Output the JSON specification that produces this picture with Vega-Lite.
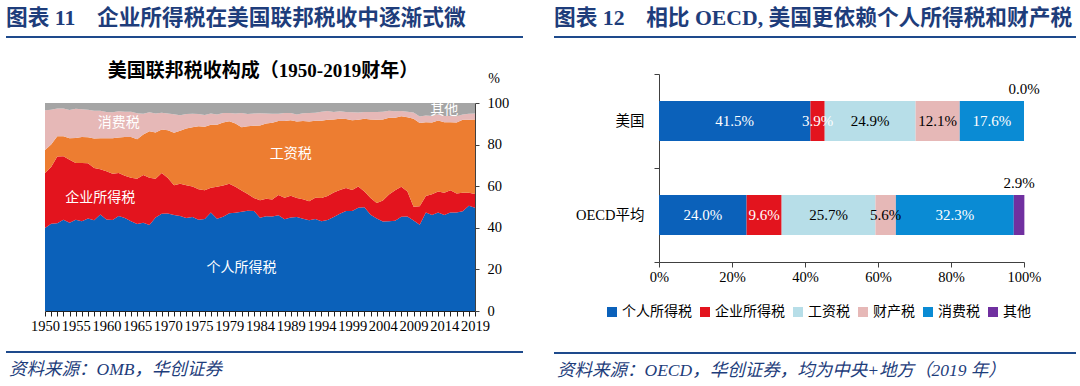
{
 "$schema": "https://vega.github.io/schema/vega-lite/v6.json",
 "background": "#ffffff",
 "padding": {"left": 5, "top": 8, "right": 0, "bottom": 0},
 "bounds": "full",
 "spacing": 29,
 "resolve": {"scale": {"color": "independent"}, "legend": {"color": "independent"}},
 "config": {
  "view": {"stroke": null},
  "font": "Liberation Serif, Noto Sans CJK SC",
  "axis": {"grid": false, "labelFont": "Liberation Serif, Noto Sans CJK SC", "titleFont": "Liberation Serif, Noto Sans CJK SC", "labelColor": "#000000", "domainColor": "#404040", "tickColor": "#404040"},
  "title": {"font": "Liberation Serif, Noto Sans CJK SC"},
  "legend": {"labelFont": "Liberation Serif, Noto Sans CJK SC"}
 },
 "hconcat": [
  {
   "bounds": "full",
   "spacing": 18,
   "vconcat": [
    {
     "width": 517, "height": 5.5,
     "data": {"values": [{}]},
     "title": {"text": "图表 11　企业所得税在美国联邦税收中逐渐式微", "orient": "top", "anchor": "start", "frame": "group", "offset": 6, "fontSize": 21.7, "fontWeight": "bold", "color": "#1E3D7B"},
     "mark": {"type": "rule", "color": "#1E4A8C", "strokeWidth": 2},
     "encoding": {
      "x": {"datum": 0, "type": "quantitative", "scale": {"domain": [0, 1], "nice": false, "zero": false}, "axis": null},
      "x2": {"datum": 1},
      "y": {"datum": 1, "type": "quantitative", "scale": {"domain": [0, 1], "nice": false}, "axis": null}
     }
    },
    {
     "bounds": "flush",
     "spacing": 0,
     "hconcat": [
      {"width": 39, "height": 208, "data": {"values": []}, "mark": "point"},
      {
       "width": 430, "height": 208,
       "title": {"text": "美国联邦税收构成（1950-2019财年）", "anchor": "middle", "frame": "group", "offset": -9.5, "dx": 3, "fontSize": 19, "fontWeight": "bold", "color": "#000000"},
       "layer": [
        {
         "data": {"values": [
{"year":"1950","type":"个人所得税","share":39.9},{"year":"1950","type":"企业所得税","share":26.5},{"year":"1950","type":"工资税","share":11.0},{"year":"1950","type":"消费税","share":19.1},{"year":"1950","type":"其他","share":3.5},
{"year":"1951","type":"个人所得税","share":41.9},{"year":"1951","type":"企业所得税","share":27.3},{"year":"1951","type":"工资税","share":10.9},{"year":"1951","type":"消费税","share":16.7},{"year":"1951","type":"其他","share":3.2},
{"year":"1952","type":"个人所得税","share":42.2},{"year":"1952","type":"企业所得税","share":32.1},{"year":"1952","type":"工资税","share":9.7},{"year":"1952","type":"消费税","share":13.4},{"year":"1952","type":"其他","share":2.6},
{"year":"1953","type":"个人所得税","share":43.9},{"year":"1953","type":"企业所得税","share":30.5},{"year":"1953","type":"工资税","share":9.6},{"year":"1953","type":"消费税","share":13.4},{"year":"1953","type":"其他","share":2.6},
{"year":"1954","type":"个人所得税","share":42.4},{"year":"1954","type":"企业所得税","share":30.3},{"year":"1954","type":"工资税","share":10.3},{"year":"1954","type":"消费税","share":13.6},{"year":"1954","type":"其他","share":3.4},
{"year":"1955","type":"个人所得税","share":43.9},{"year":"1955","type":"企业所得税","share":27.3},{"year":"1955","type":"工资税","share":12.0},{"year":"1955","type":"消费税","share":14.0},{"year":"1955","type":"其他","share":2.8},
{"year":"1956","type":"个人所得税","share":43.2},{"year":"1956","type":"企业所得税","share":28.0},{"year":"1956","type":"工资税","share":12.5},{"year":"1956","type":"消费税","share":13.3},{"year":"1956","type":"其他","share":3.0},
{"year":"1957","type":"个人所得税","share":44.5},{"year":"1957","type":"企业所得税","share":26.5},{"year":"1957","type":"工资税","share":12.5},{"year":"1957","type":"消费税","share":13.2},{"year":"1957","type":"其他","share":3.3},
{"year":"1958","type":"个人所得税","share":43.6},{"year":"1958","type":"企业所得税","share":25.2},{"year":"1958","type":"工资税","share":14.1},{"year":"1958","type":"消费税","share":13.4},{"year":"1958","type":"其他","share":3.7},
{"year":"1959","type":"个人所得税","share":46.4},{"year":"1959","type":"企业所得税","share":21.8},{"year":"1959","type":"工资税","share":14.8},{"year":"1959","type":"消费税","share":13.3},{"year":"1959","type":"其他","share":3.7},
{"year":"1960","type":"个人所得税","share":44.0},{"year":"1960","type":"企业所得税","share":23.2},{"year":"1960","type":"工资税","share":15.9},{"year":"1960","type":"消费税","share":12.6},{"year":"1960","type":"其他","share":4.3},
{"year":"1961","type":"个人所得税","share":43.8},{"year":"1961","type":"企业所得税","share":22.2},{"year":"1961","type":"工资税","share":17.0},{"year":"1961","type":"消费税","share":12.6},{"year":"1961","type":"其他","share":4.4},
{"year":"1962","type":"个人所得税","share":45.7},{"year":"1962","type":"企业所得税","share":20.6},{"year":"1962","type":"工资税","share":17.1},{"year":"1962","type":"消费税","share":12.6},{"year":"1962","type":"其他","share":4.0},
{"year":"1963","type":"个人所得税","share":44.7},{"year":"1963","type":"企业所得税","share":20.3},{"year":"1963","type":"工资税","share":18.6},{"year":"1963","type":"消费税","share":12.2},{"year":"1963","type":"其他","share":4.2},
{"year":"1964","type":"个人所得税","share":43.2},{"year":"1964","type":"企业所得税","share":20.9},{"year":"1964","type":"工资税","share":19.5},{"year":"1964","type":"消费税","share":12.2},{"year":"1964","type":"其他","share":4.2},
{"year":"1965","type":"个人所得税","share":41.8},{"year":"1965","type":"企业所得税","share":21.8},{"year":"1965","type":"工资税","share":19.0},{"year":"1965","type":"消费税","share":12.5},{"year":"1965","type":"其他","share":4.9},
{"year":"1966","type":"个人所得税","share":42.4},{"year":"1966","type":"企业所得税","share":23.0},{"year":"1966","type":"工资税","share":19.5},{"year":"1966","type":"消费税","share":9.9},{"year":"1966","type":"其他","share":5.2},
{"year":"1967","type":"个人所得税","share":41.3},{"year":"1967","type":"企业所得税","share":22.8},{"year":"1967","type":"工资税","share":22.3},{"year":"1967","type":"消费税","share":9.2},{"year":"1967","type":"其他","share":4.4},
{"year":"1968","type":"个人所得税","share":44.9},{"year":"1968","type":"企业所得税","share":18.7},{"year":"1968","type":"工资税","share":22.2},{"year":"1968","type":"消费税","share":9.2},{"year":"1968","type":"其他","share":5.0},
{"year":"1969","type":"个人所得税","share":46.7},{"year":"1969","type":"企业所得税","share":19.6},{"year":"1969","type":"工资税","share":20.9},{"year":"1969","type":"消费税","share":8.1},{"year":"1969","type":"其他","share":4.7},
{"year":"1970","type":"个人所得税","share":46.9},{"year":"1970","type":"企业所得税","share":17.0},{"year":"1970","type":"工资税","share":23.0},{"year":"1970","type":"消费税","share":8.1},{"year":"1970","type":"其他","share":5.0},
{"year":"1971","type":"个人所得税","share":46.1},{"year":"1971","type":"企业所得税","share":14.3},{"year":"1971","type":"工资税","share":25.3},{"year":"1971","type":"消费税","share":8.9},{"year":"1971","type":"其他","share":5.4},
{"year":"1972","type":"个人所得税","share":45.7},{"year":"1972","type":"企业所得税","share":15.5},{"year":"1972","type":"工资税","share":25.4},{"year":"1972","type":"消费税","share":7.5},{"year":"1972","type":"其他","share":5.9},
{"year":"1973","type":"个人所得税","share":44.7},{"year":"1973","type":"企业所得税","share":15.7},{"year":"1973","type":"工资税","share":27.3},{"year":"1973","type":"消费税","share":7.0},{"year":"1973","type":"其他","share":5.3},
{"year":"1974","type":"个人所得税","share":45.2},{"year":"1974","type":"企业所得税","share":14.7},{"year":"1974","type":"工资税","share":28.5},{"year":"1974","type":"消费税","share":6.4},{"year":"1974","type":"其他","share":5.2},
{"year":"1975","type":"个人所得税","share":43.9},{"year":"1975","type":"企业所得税","share":14.6},{"year":"1975","type":"工资税","share":30.3},{"year":"1975","type":"消费税","share":5.9},{"year":"1975","type":"其他","share":5.3},
{"year":"1976","type":"个人所得税","share":44.2},{"year":"1976","type":"企业所得税","share":13.9},{"year":"1976","type":"工资税","share":30.5},{"year":"1976","type":"消费税","share":5.6},{"year":"1976","type":"其他","share":5.8},
{"year":"1976TQ","type":"个人所得税","share":47.3},{"year":"1976TQ","type":"企业所得税","share":12.0},{"year":"1976TQ","type":"工资税","share":30.2},{"year":"1976TQ","type":"消费税","share":5.4},{"year":"1976TQ","type":"其他","share":5.1},
{"year":"1977","type":"个人所得税","share":44.3},{"year":"1977","type":"企业所得税","share":15.4},{"year":"1977","type":"工资税","share":29.9},{"year":"1977","type":"消费税","share":4.9},{"year":"1977","type":"其他","share":5.5},
{"year":"1978","type":"个人所得税","share":45.3},{"year":"1978","type":"企业所得税","share":15.0},{"year":"1978","type":"工资税","share":30.3},{"year":"1978","type":"消费税","share":4.6},{"year":"1978","type":"其他","share":4.8},
{"year":"1979","type":"个人所得税","share":47.0},{"year":"1979","type":"企业所得税","share":14.2},{"year":"1979","type":"工资税","share":30.0},{"year":"1979","type":"消费税","share":4.0},{"year":"1979","type":"其他","share":4.8},
{"year":"1980","type":"个人所得税","share":47.2},{"year":"1980","type":"企业所得税","share":12.5},{"year":"1980","type":"工资税","share":30.5},{"year":"1980","type":"消费税","share":4.7},{"year":"1980","type":"其他","share":5.1},
{"year":"1981","type":"个人所得税","share":47.7},{"year":"1981","type":"企业所得税","share":10.2},{"year":"1981","type":"工资税","share":30.5},{"year":"1981","type":"消费税","share":6.8},{"year":"1981","type":"其他","share":4.8},
{"year":"1982","type":"个人所得税","share":48.2},{"year":"1982","type":"企业所得税","share":8.0},{"year":"1982","type":"工资税","share":32.6},{"year":"1982","type":"消费税","share":5.9},{"year":"1982","type":"其他","share":5.3},
{"year":"1983","type":"个人所得税","share":48.1},{"year":"1983","type":"企业所得税","share":6.2},{"year":"1983","type":"工资税","share":34.8},{"year":"1983","type":"消费税","share":5.9},{"year":"1983","type":"其他","share":5.0},
{"year":"1984","type":"个人所得税","share":44.8},{"year":"1984","type":"企业所得税","share":8.5},{"year":"1984","type":"工资税","share":35.9},{"year":"1984","type":"消费税","share":5.9},{"year":"1984","type":"其他","share":4.9},
{"year":"1985","type":"个人所得税","share":45.6},{"year":"1985","type":"企业所得税","share":8.4},{"year":"1985","type":"工资税","share":36.1},{"year":"1985","type":"消费税","share":4.9},{"year":"1985","type":"其他","share":5.0},
{"year":"1986","type":"个人所得税","share":45.4},{"year":"1986","type":"企业所得税","share":8.2},{"year":"1986","type":"工资税","share":36.9},{"year":"1986","type":"消费税","share":4.3},{"year":"1986","type":"其他","share":5.2},
{"year":"1987","type":"个人所得税","share":46.0},{"year":"1987","type":"企业所得税","share":9.8},{"year":"1987","type":"工资税","share":35.5},{"year":"1987","type":"消费税","share":3.5},{"year":"1987","type":"其他","share":5.2},
{"year":"1988","type":"个人所得税","share":44.1},{"year":"1988","type":"企业所得税","share":10.4},{"year":"1988","type":"工资税","share":36.8},{"year":"1988","type":"消费税","share":3.9},{"year":"1988","type":"其他","share":4.8},
{"year":"1989","type":"个人所得税","share":45.0},{"year":"1989","type":"企业所得税","share":10.4},{"year":"1989","type":"工资税","share":36.3},{"year":"1989","type":"消费税","share":3.5},{"year":"1989","type":"其他","share":4.8},
{"year":"1990","type":"个人所得税","share":45.2},{"year":"1990","type":"企业所得税","share":9.1},{"year":"1990","type":"工资税","share":36.8},{"year":"1990","type":"消费税","share":3.4},{"year":"1990","type":"其他","share":5.5},
{"year":"1991","type":"个人所得税","share":44.4},{"year":"1991","type":"企业所得税","share":9.3},{"year":"1991","type":"工资税","share":37.6},{"year":"1991","type":"消费税","share":3.8},{"year":"1991","type":"其他","share":4.9},
{"year":"1992","type":"个人所得税","share":43.6},{"year":"1992","type":"企业所得税","share":9.2},{"year":"1992","type":"工资税","share":38.3},{"year":"1992","type":"消费税","share":4.1},{"year":"1992","type":"其他","share":4.8},
{"year":"1993","type":"个人所得税","share":44.2},{"year":"1993","type":"企业所得税","share":10.2},{"year":"1993","type":"工资税","share":37.1},{"year":"1993","type":"消费税","share":3.8},{"year":"1993","type":"其他","share":4.7},
{"year":"1994","type":"个人所得税","share":43.1},{"year":"1994","type":"企业所得税","share":11.2},{"year":"1994","type":"工资税","share":37.2},{"year":"1994","type":"消费税","share":4.3},{"year":"1994","type":"其他","share":4.2},
{"year":"1995","type":"个人所得税","share":43.7},{"year":"1995","type":"企业所得税","share":11.6},{"year":"1995","type":"工资税","share":36.6},{"year":"1995","type":"消费税","share":4.3},{"year":"1995","type":"其他","share":3.8},
{"year":"1996","type":"个人所得税","share":45.2},{"year":"1996","type":"企业所得税","share":11.8},{"year":"1996","type":"工资税","share":35.1},{"year":"1996","type":"消费税","share":3.6},{"year":"1996","type":"其他","share":4.3},
{"year":"1997","type":"个人所得税","share":46.7},{"year":"1997","type":"企业所得税","share":11.5},{"year":"1997","type":"工资税","share":34.2},{"year":"1997","type":"消费税","share":3.6},{"year":"1997","type":"其他","share":4.0},
{"year":"1998","type":"个人所得税","share":48.1},{"year":"1998","type":"企业所得税","share":11.0},{"year":"1998","type":"工资税","share":33.2},{"year":"1998","type":"消费税","share":3.4},{"year":"1998","type":"其他","share":4.3},
{"year":"1999","type":"个人所得税","share":48.1},{"year":"1999","type":"企业所得税","share":10.1},{"year":"1999","type":"工资税","share":33.5},{"year":"1999","type":"消费税","share":3.8},{"year":"1999","type":"其他","share":4.5},
{"year":"2000","type":"个人所得税","share":49.6},{"year":"2000","type":"企业所得税","share":10.2},{"year":"2000","type":"工资税","share":32.2},{"year":"2000","type":"消费税","share":3.4},{"year":"2000","type":"其他","share":4.6},
{"year":"2001","type":"个人所得税","share":49.9},{"year":"2001","type":"企业所得税","share":7.6},{"year":"2001","type":"工资税","share":34.9},{"year":"2001","type":"消费税","share":3.3},{"year":"2001","type":"其他","share":4.3},
{"year":"2002","type":"个人所得税","share":46.3},{"year":"2002","type":"企业所得税","share":8.0},{"year":"2002","type":"工资税","share":37.8},{"year":"2002","type":"消费税","share":3.6},{"year":"2002","type":"其他","share":4.3},
{"year":"2003","type":"个人所得税","share":44.5},{"year":"2003","type":"企业所得税","share":7.4},{"year":"2003","type":"工资税","share":40.0},{"year":"2003","type":"消费税","share":3.8},{"year":"2003","type":"其他","share":4.3},
{"year":"2004","type":"个人所得税","share":43.0},{"year":"2004","type":"企业所得税","share":10.1},{"year":"2004","type":"工资税","share":39.0},{"year":"2004","type":"消费税","share":3.7},{"year":"2004","type":"其他","share":4.2},
{"year":"2005","type":"个人所得税","share":43.1},{"year":"2005","type":"企业所得税","share":12.9},{"year":"2005","type":"工资税","share":36.9},{"year":"2005","type":"消费税","share":3.4},{"year":"2005","type":"其他","share":3.7},
{"year":"2006","type":"个人所得税","share":43.4},{"year":"2006","type":"企业所得税","share":14.7},{"year":"2006","type":"工资税","share":34.8},{"year":"2006","type":"消费税","share":3.1},{"year":"2006","type":"其他","share":4.0},
{"year":"2007","type":"个人所得税","share":45.3},{"year":"2007","type":"企业所得税","share":14.4},{"year":"2007","type":"工资税","share":33.9},{"year":"2007","type":"消费税","share":2.5},{"year":"2007","type":"其他","share":3.9},
{"year":"2008","type":"个人所得税","share":45.4},{"year":"2008","type":"企业所得税","share":12.1},{"year":"2008","type":"工资税","share":35.7},{"year":"2008","type":"消费税","share":2.6},{"year":"2008","type":"其他","share":4.2},
{"year":"2009","type":"个人所得税","share":43.5},{"year":"2009","type":"企业所得税","share":6.6},{"year":"2009","type":"工资税","share":42.3},{"year":"2009","type":"消费税","share":3.0},{"year":"2009","type":"其他","share":4.6},
{"year":"2010","type":"个人所得税","share":41.5},{"year":"2010","type":"企业所得税","share":8.9},{"year":"2010","type":"工资税","share":40.0},{"year":"2010","type":"消费税","share":3.1},{"year":"2010","type":"其他","share":6.5},
{"year":"2011","type":"个人所得税","share":47.4},{"year":"2011","type":"企业所得税","share":7.9},{"year":"2011","type":"工资税","share":35.5},{"year":"2011","type":"消费税","share":3.2},{"year":"2011","type":"其他","share":6.0},
{"year":"2012","type":"个人所得税","share":46.2},{"year":"2012","type":"企业所得税","share":9.9},{"year":"2012","type":"工资税","share":34.5},{"year":"2012","type":"消费税","share":3.2},{"year":"2012","type":"其他","share":6.2},
{"year":"2013","type":"个人所得税","share":47.4},{"year":"2013","type":"企业所得税","share":10.0},{"year":"2013","type":"工资税","share":34.2},{"year":"2013","type":"消费税","share":3.0},{"year":"2013","type":"其他","share":5.4},
{"year":"2014","type":"个人所得税","share":46.2},{"year":"2014","type":"企业所得税","share":10.6},{"year":"2014","type":"工资税","share":33.9},{"year":"2014","type":"消费税","share":3.0},{"year":"2014","type":"其他","share":6.3},
{"year":"2015","type":"个人所得税","share":47.4},{"year":"2015","type":"企业所得税","share":10.6},{"year":"2015","type":"工资税","share":32.8},{"year":"2015","type":"消费税","share":3.0},{"year":"2015","type":"其他","share":6.2},
{"year":"2016","type":"个人所得税","share":47.3},{"year":"2016","type":"企业所得税","share":9.2},{"year":"2016","type":"工资税","share":34.1},{"year":"2016","type":"消费税","share":3.0},{"year":"2016","type":"其他","share":6.4},
{"year":"2017","type":"个人所得税","share":47.9},{"year":"2017","type":"企业所得税","share":9.0},{"year":"2017","type":"工资税","share":35.0},{"year":"2017","type":"消费税","share":2.6},{"year":"2017","type":"其他","share":5.5},
{"year":"2018","type":"个人所得税","share":50.6},{"year":"2018","type":"企业所得税","share":6.2},{"year":"2018","type":"工资税","share":35.2},{"year":"2018","type":"消费税","share":2.8},{"year":"2018","type":"其他","share":5.2},
{"year":"2019","type":"个人所得税","share":49.6},{"year":"2019","type":"企业所得税","share":6.6},{"year":"2019","type":"工资税","share":35.9},{"year":"2019","type":"消费税","share":2.9},{"year":"2019","type":"其他","share":5.0}
         ]},
         "transform": [{"window": [{"op": "row_number", "as": "rank"}], "groupby": ["year"]}],
         "mark": {"type": "area", "interpolate": "linear", "clip": true},
         "encoding": {
          "x": {"field": "year", "type": "ordinal", "scale": {"padding": 0},
                "axis": {"orient": "bottom", "title": null, "labelAngle": 0, "labelOverlap": false, "labelBound": false, "labelFlush": false,
                         "labelExpr": "indexof(['1950','1955','1960','1965','1970','1975','1979','1984','1989','1994','1999','2004','2009','2014','2019'], datum.value) >= 0 ? datum.value : ''",
                         "labelFontSize": 14.5, "labelFont": "Liberation Serif", "tickSize": 5, "labelPadding": 3, "domainColor": "#222222", "tickColor": "#222222"}},
          "y": {"field": "share", "type": "quantitative", "stack": "zero", "scale": {"domain": [0, 100], "nice": false},
                "axis": {"orient": "right", "values": [0, 10, 20, 30, 40, 50, 60, 70, 80, 90, 100], "title": "%", "titleAngle": 0, "titleX": 18.5, "titleY": -25, "titleAlign": "center", "titleBaseline": "middle", "titleFontSize": 14, "titleFontWeight": "normal", "titleFont": "Liberation Serif", "labelFontSize": 14.5, "labelFont": "Liberation Serif", "labelPadding": 8, "tickSize": 4}},
          "color": {"field": "type", "type": "nominal", "scale": {"domain": ["个人所得税", "企业所得税", "工资税", "消费税", "其他"], "range": ["#0B61BA", "#E3141E", "#ED7D31", "#E6B8B7", "#A5A5A5"]}, "legend": null},
          "order": {"field": "rank", "type": "quantitative", "sort": "ascending"}
         }
        },
        {
         "data": {"values": [
          {"year": "1981", "share": 20.8, "label": "个人所得税"},
          {"year": "1959", "share": 54.4, "label": "企业所得税"},
          {"year": "1962", "share": 90.4, "label": "消费税"},
          {"year": "1989", "share": 75.7, "label": "工资税"},
          {"year": "2014", "share": 96.5, "label": "其他"}
         ]},
         "mark": {"type": "text", "color": "#ffffff", "fontSize": 14, "font": "Noto Sans CJK SC"},
         "encoding": {
          "x": {"field": "year", "type": "ordinal"},
          "y": {"field": "share", "type": "quantitative"},
          "text": {"field": "label", "type": "nominal"}
         }
        }
       ]
      }
     ]
    },
    {
     "width": 517, "height": 1,
     "data": {"values": [{}]},
     "title": {"text": "资料来源：OMB，华创证券", "orient": "bottom", "anchor": "start", "frame": "group", "offset": 8, "dx": 3, "fontSize": 17.5, "fontStyle": "italic", "fontWeight": "normal", "color": "#1E3D7B"},
     "mark": {"type": "rule", "color": "#1E4A8C", "strokeWidth": 2},
     "encoding": {
      "x": {"datum": 0, "type": "quantitative", "scale": {"domain": [0, 1], "nice": false, "zero": false}, "axis": null},
      "x2": {"datum": 1},
      "y": {"datum": 1, "type": "quantitative", "scale": {"domain": [0, 1], "nice": false}, "axis": null}
     }
    }
   ]
  },
  {
   "bounds": "full",
   "spacing": 28,
   "resolve": {"scale": {"color": "independent"}, "legend": {"color": "independent"}},
   "vconcat": [
    {
     "width": 522, "height": 1,
     "data": {"values": [{}]},
     "title": {"text": "图表 12　相比 OECD, 美国更依赖个人所得税和财产税", "orient": "top", "anchor": "start", "frame": "group", "offset": 6, "fontSize": 21.7, "fontWeight": "bold", "color": "#1E3D7B"},
     "mark": {"type": "rule", "color": "#1E4A8C", "strokeWidth": 2},
     "encoding": {
      "x": {"datum": 0, "type": "quantitative", "scale": {"domain": [0, 1], "nice": false, "zero": false}, "axis": null},
      "x2": {"datum": 1},
      "y": {"datum": 1, "type": "quantitative", "scale": {"domain": [0, 1], "nice": false}, "axis": null}
     }
    },
    {
     "bounds": "flush",
     "spacing": 0,
     "resolve": {"scale": {"color": "independent"}, "legend": {"color": "independent"}},
     "hconcat": [
      {"width": 105, "height": 188, "data": {"values": []}, "mark": "point"},
      {
       "width": 365, "height": 188,
       "data": {"values": [
        {"country": "美国", "type": "个人所得税", "share": 0.415},
        {"country": "美国", "type": "企业所得税", "share": 0.039},
        {"country": "美国", "type": "工资税", "share": 0.249},
        {"country": "美国", "type": "财产税", "share": 0.121},
        {"country": "美国", "type": "消费税", "share": 0.176},
        {"country": "美国", "type": "其他", "share": 0.0},
        {"country": "OECD平均", "type": "个人所得税", "share": 0.240},
        {"country": "OECD平均", "type": "企业所得税", "share": 0.096},
        {"country": "OECD平均", "type": "工资税", "share": 0.257},
        {"country": "OECD平均", "type": "财产税", "share": 0.056},
        {"country": "OECD平均", "type": "消费税", "share": 0.323},
        {"country": "OECD平均", "type": "其他", "share": 0.029}
       ]},
       "transform": [{"window": [{"op": "row_number", "as": "rank"}], "groupby": ["country"]}],
       "encoding": {
        "y": {"field": "country", "type": "nominal", "sort": ["美国", "OECD平均"], "scale": {"paddingInner": 0, "paddingOuter": 0},
              "axis": {"title": null, "tickBand": "extent", "tickSize": 5, "labelPadding": 10, "labelFontSize": 14.5, "labelColor": "#000000"}},
        "x": {"field": "share", "type": "quantitative", "stack": "zero", "scale": {"domain": [0, 1], "nice": false},
              "axis": {"title": null, "format": ".0%", "values": [0, 0.2, 0.4, 0.6, 0.8, 1], "tickSize": 5, "labelPadding": 3, "labelFontSize": 14.5, "labelFont": "Liberation Serif", "labelFlush": false}},
        "order": {"field": "rank", "type": "quantitative", "sort": "ascending"}
       },
       "layer": [
        {
         "mark": {"type": "bar", "size": 40},
         "encoding": {
          "color": {"field": "type", "type": "nominal",
                    "scale": {"domain": ["个人所得税", "企业所得税", "工资税", "财产税", "消费税", "其他"], "range": ["#0B61BA", "#E3141E", "#B7DEE8", "#E6B8B7", "#0A8BD4", "#7030A0"]},
                    "legend": {"orient": "none", "legendX": -54, "legendY": 231, "direction": "horizontal", "columns": 6, "title": null, "symbolType": "square", "symbolSize": 100, "symbolStrokeWidth": 0, "labelFontSize": 14, "labelOffset": 3, "columnPadding": 6, "labelColor": "#000000", "labelFont": "Noto Sans CJK SC"}}
         }
        },
        {
         "mark": {"type": "text", "fontSize": 15, "font": "Liberation Serif"},
         "encoding": {
          "x": {"field": "share", "type": "quantitative", "stack": "zero", "bandPosition": 0.5},
          "detail": {"field": "type", "type": "nominal"},
          "text": {"condition": {"test": "datum.type !== '其他'", "field": "share", "type": "quantitative", "format": ".1%"}, "value": ""},
          "color": {"condition": {"test": "datum.type === '工资税' || datum.type === '财产税'", "value": "#000000"}, "value": "#ffffff"}
         }
        },
        {
         "mark": {"type": "text", "fontSize": 15, "font": "Liberation Serif", "dy": -32, "color": "#000000"},
         "encoding": {
          "x": {"field": "share", "type": "quantitative", "stack": "zero", "bandPosition": 0.5},
          "detail": {"field": "type", "type": "nominal"},
          "text": {"condition": {"test": "datum.type === '其他'", "field": "share", "type": "quantitative", "format": ".1%"}, "value": ""}
         }
        }
       ]
      }
     ]
    },
    {
     "width": 522, "height": 6,
     "data": {"values": [{}]},
     "title": {"text": "资料来源：OECD，华创证券，均为中央+地方（2019 年）", "orient": "bottom", "anchor": "start", "frame": "group", "offset": 8, "dx": 3, "fontSize": 17.5, "fontStyle": "italic", "fontWeight": "normal", "color": "#1E3D7B"},
     "mark": {"type": "rule", "color": "#1E4A8C", "strokeWidth": 2},
     "encoding": {
      "x": {"datum": 0, "type": "quantitative", "scale": {"domain": [0, 1], "nice": false, "zero": false}, "axis": null},
      "x2": {"datum": 1},
      "y": {"datum": 0, "type": "quantitative", "scale": {"domain": [0, 1], "nice": false}, "axis": null}
     }
    }
   ]
  }
 ]
}
